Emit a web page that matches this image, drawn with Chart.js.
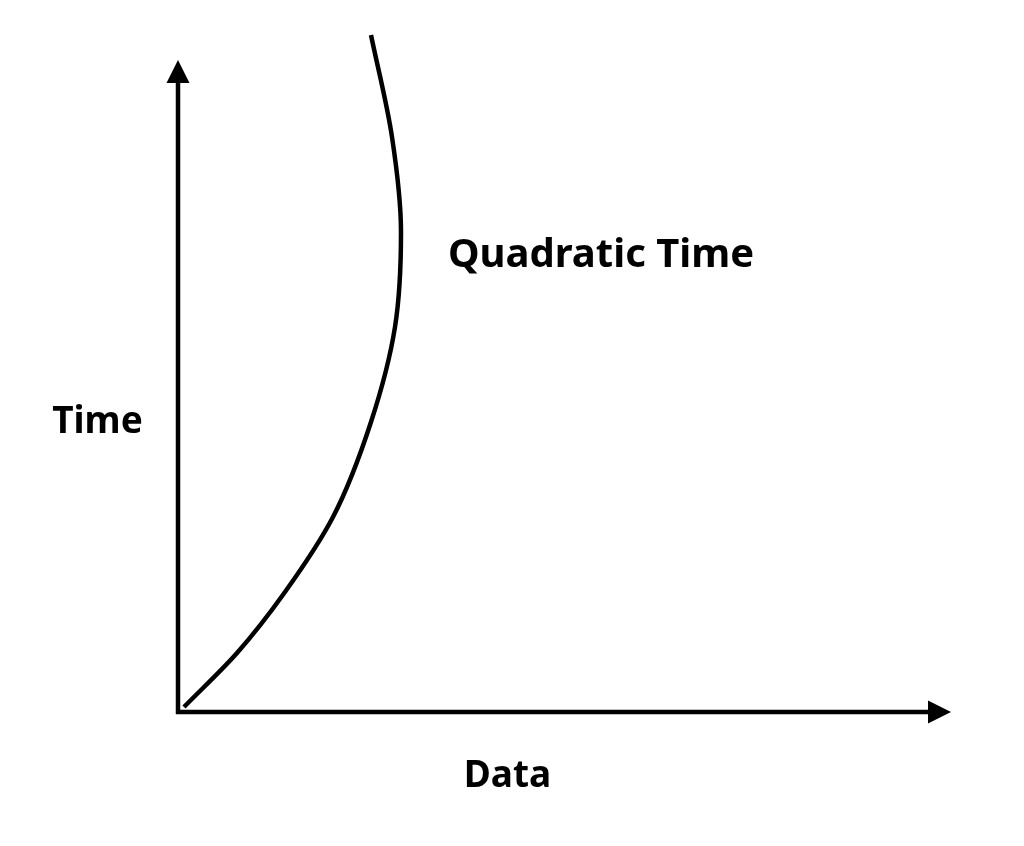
<!DOCTYPE html>
<html>
<head>
<meta charset="utf-8">
<script src="https://cdn.jsdelivr.net/npm/chart.js@4.4.1/dist/chart.umd.min.js"></script>
<style>
  html, body { margin: 0; padding: 0; background: #ffffff; }
  #wrap { width: 1024px; height: 846px; }
</style>
</head>
<body>
<div id="wrap"><canvas id="grafico" width="1024" height="846"></canvas></div>
<script>
// curve (units: px from the origin)
const dataX = [6, 59, 107, 155, 193, 217, 223, 214, 193];
const timeY = [5, 59, 120, 195, 290, 385, 480, 575, 677];

const curveLabel = 'Quadratic Time';
const xTitle = 'Data';
const yTitle = 'Time';

// axis extents (arrow tips)
const xAxisEnd = 773;
const yAxisEnd = 652;

const pontos = dataX.map((x, i) => ({ x: x, y: timeY[i] }));

// draws the arrows and the text
const eixos = {
    id: 'eixos',
    beforeDatasetsDraw(chart) {
        const ctx = chart.ctx;
        const sx = chart.scales.x, sy = chart.scales.y;
        const x0 = sx.getPixelForValue(0), y0 = sy.getPixelForValue(0);
        const xEnd = sx.getPixelForValue(xAxisEnd);
        const yEnd = sy.getPixelForValue(yAxisEnd);
        const head = 23, half = 11.5;

        ctx.save();
        ctx.strokeStyle = '#000';
        ctx.fillStyle = '#000';
        ctx.lineWidth = 4.5;
        ctx.lineCap = 'butt';

        // y axis
        ctx.beginPath();
        ctx.moveTo(x0, y0 + 2);
        ctx.lineTo(x0, yEnd + head);
        ctx.stroke();
        ctx.beginPath();
        ctx.moveTo(x0, yEnd);
        ctx.lineTo(x0 - half, yEnd + head);
        ctx.lineTo(x0 + half, yEnd + head);
        ctx.closePath();
        ctx.fill();

        // x axis
        ctx.beginPath();
        ctx.moveTo(x0 - 2, y0);
        ctx.lineTo(xEnd - head, y0);
        ctx.stroke();
        ctx.beginPath();
        ctx.moveTo(xEnd, y0);
        ctx.lineTo(xEnd - head, y0 - half);
        ctx.lineTo(xEnd - head, y0 + half);
        ctx.closePath();
        ctx.fill();

        // text
        ctx.textAlign = 'center';
        ctx.textBaseline = 'alphabetic';
        ctx.font = 'bold 37px "Noto Sans"';
        ctx.fillText(yTitle, x0 - 80.5, sy.getPixelForValue(279));
        ctx.fillText(xTitle, sx.getPixelForValue(329.5), y0 + 74.5);
        ctx.font = 'bold 40px "Noto Sans"';
        ctx.fillText(curveLabel, sx.getPixelForValue(423), sy.getPixelForValue(445.5));
        ctx.restore();
    }
};

// indexAxis 'y': the curve goes up in time, so the spline follows y
new Chart(document.getElementById('grafico').getContext('2d'), {
    type: 'line',
    data: {
        datasets: [{
            label: curveLabel,
            data: pontos,
            borderColor: '#000000',
            borderWidth: 4.5,
            pointRadius: 0,
            cubicInterpolationMode: 'monotone',
            fill: false
        }]
    },
    options: {
        indexAxis: 'y',
        responsive: false,
        animation: false,
        layout: { padding: 0 },
        scales: {
            x: { type: 'linear', min: -178, max: 846, display: false },
            y: { type: 'linear', min: -134, max: 712, display: false }
        },
        plugins: {
            legend: { display: false },
            tooltip: { enabled: false }
        }
    },
    plugins: [eixos]
});
</script>
</body>
</html>
